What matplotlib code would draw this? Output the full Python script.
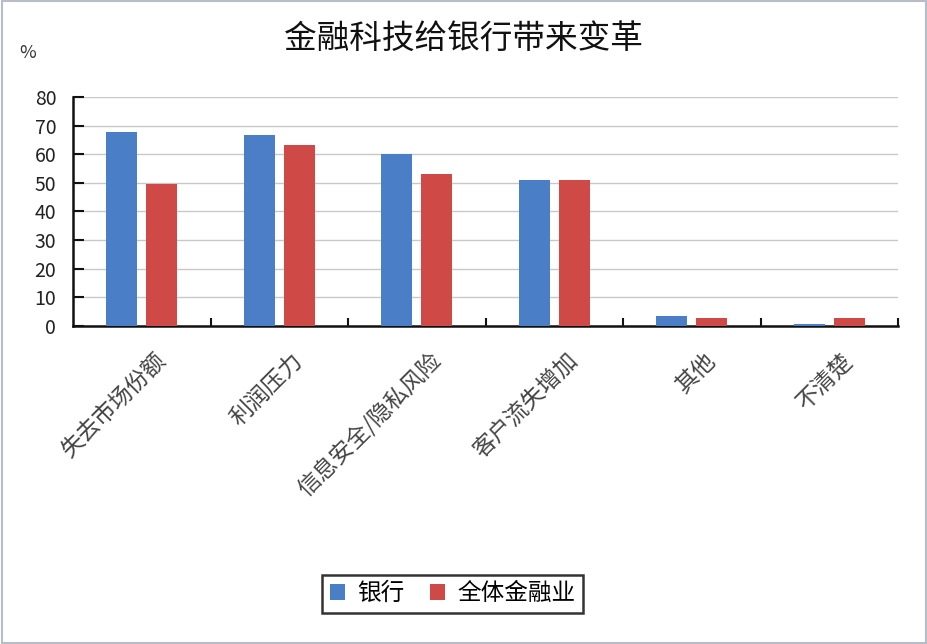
import matplotlib
matplotlib.use("Agg")
import matplotlib.pyplot as plt
import matplotlib.transforms as mtransforms
import numpy as np
from matplotlib.patches import Rectangle

plt.rcParams['font.family'] = ['Noto Sans CJK SC', 'DejaVu Sans']

categories = ["失去市场份额", "利润压力", "信息安全/隐私风险", "客户流失增加", "其他", "不清楚"]
bank = [67.6, 66.8, 60.0, 51.0, 3.5, 0.6]
industry = [49.7, 63.4, 53.0, 51.0, 2.7, 2.7]
series_names = ["银行", "全体金融业"]
yticks = [0, 10, 20, 30, 40, 50, 60, 70, 80]

blue = "#4a7ec6"
red = "#cf4a46"

fig = plt.figure(figsize=(9.28, 6.44), dpi=100)
fig.patch.set_facecolor("white")
fig.patches.append(Rectangle((0.002, 0.002), 0.996, 0.996, transform=fig.transFigure,
                             fill=False, edgecolor="#b8bcc8", linewidth=1.5))

ax = fig.add_axes([0.0787, 0.4938, 0.889, 0.3556])
x = np.arange(len(categories))
w = 0.225
ax.bar(x - 0.145, bank, width=w, color=blue, zorder=3, label=series_names[0])
ax.bar(x + 0.145, industry, width=w, color=red, zorder=3, label=series_names[1])

ax.set_xlim(-0.5, len(categories) - 0.5)
ax.set_ylim(0, 80)
ax.set_yticks(yticks)
ax.set_yticklabels([str(v) for v in yticks], fontsize=14, color="#222222")
ax.yaxis.grid(True, color="#c8c8c8", linewidth=1, zorder=0)
ax.tick_params(axis="y", direction="in", length=8, width=1.5, pad=12, colors="#111111", labelcolor="#222222")

ax.set_xticks(x)
ax.set_xticklabels(categories, rotation=45, ha="right", va="top", rotation_mode="anchor",
                   fontsize=16.5, color="#444444")
ax.tick_params(axis="x", length=0, pad=12)
offset = mtransforms.ScaledTranslation(0.12, -0.06, fig.dpi_scale_trans)
for lbl in ax.get_xticklabels():
    lbl.set_transform(lbl.get_transform() + offset)
# category boundary ticks
ax.set_xticks(np.arange(len(categories)) + 0.5, minor=True)
ax.tick_params(axis="x", which="minor", direction="in", length=6, width=1.5, color="#111111")

for s in ["top", "right"]:
    ax.spines[s].set_visible(False)
for s in ["left", "bottom"]:
    ax.spines[s].set_linewidth(1.8)
    ax.spines[s].set_color("#111111")

fig.text(0.4995, 0.94, "金融科技给银行带来变革", ha="center", va="center", fontsize=23.5, color="#111111")
fig.text(0.03, 0.918, "%", ha="center", va="center", fontsize=13, color="#333333")

leg = fig.legend(loc="center", bbox_to_anchor=(0.4876, 0.078), ncol=2, fontsize=17,
                 frameon=True, fancybox=False, edgecolor="black", handlelength=0.65,
                 handleheight=0.65, handletextpad=0.5, columnspacing=1.1, borderpad=0.32,
                 borderaxespad=0)
leg.get_frame().set_linewidth(1.8)

fig.savefig("out.png", dpi=100)
